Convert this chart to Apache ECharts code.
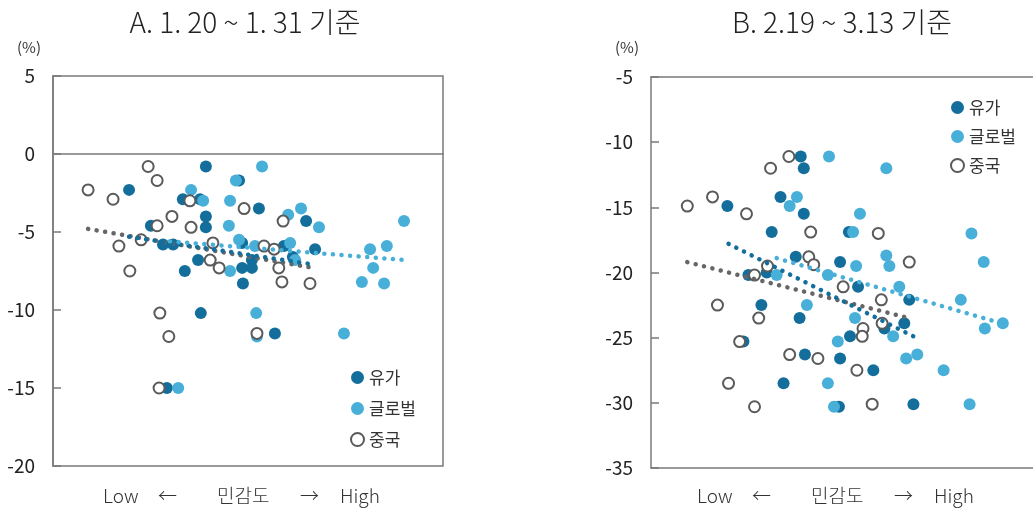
<!DOCTYPE html>
<html>
<head>
    <meta charset="UTF-8">
    <title>민감도 산점도</title>
    <script src="https://cdn.jsdelivr.net/npm/echarts@6/dist/echarts.min.js"></script>
    <style>
        body { margin: 0; background: #fff; }
    </style>
</head>
<body>
<div id="chart" style="width: 1033px; height: 511px;"></div>

<script>
    // x = sensitivity (0~100, no ticks), y = change (%)
    const seriesNames = ['유가', '글로벌', '중국'];

    // A. 1.20 ~ 1.31
    const aOil = [[39.2,-0.8],[19.5,-2.3],[33.3,-2.9],[37.7,-2.9],[47.7,-1.7],[39.2,-4.0],[25.1,-4.6],[39.2,-4.7],
        [28.2,-5.8],[30.8,-5.8],[48.5,-5.7],[37.2,-6.8],[33.8,-7.5],[48.5,-7.3],[48.7,-8.3],[52.8,-3.5],[64.9,-4.3],
        [59.2,-5.9],[67.2,-6.1],[51.0,-6.8],[51.0,-7.3],[61.5,-6.6],[37.9,-10.2],[29.2,-15.0],[56.9,-11.5]];
    const aGlobal = [[35.4,-2.3],[46.9,-1.7],[45.4,-3.0],[45.1,-4.6],[47.7,-5.5],[45.4,-7.5],[53.6,-0.8],[60.3,-3.9],
        [63.6,-3.5],[68.2,-4.7],[90.0,-4.3],[51.8,-5.9],[60.8,-5.7],[81.3,-6.1],[85.6,-5.9],[62.1,-6.8],[82.1,-7.3],
        [79.2,-8.2],[84.9,-8.3],[52.1,-10.2],[52.3,-11.7],[74.6,-11.5],[32.1,-15.0],[38.5,-3.0]];
    const aChina = [[24.4,-0.8],[26.7,-1.7],[9.0,-2.3],[15.4,-2.9],[35.1,-3.0],[49.0,-3.5],[30.5,-4.0],[26.7,-4.6],
        [35.4,-4.7],[16.9,-5.9],[22.6,-5.5],[41.0,-5.7],[40.3,-6.8],[42.6,-7.3],[19.7,-7.5],[59.0,-4.3],[54.1,-5.9],
        [56.7,-6.1],[57.9,-7.3],[58.7,-8.2],[65.9,-8.3],[27.4,-10.2],[29.7,-11.7],[27.2,-15.0],[52.3,-11.5]];
    const aTrendOil = [[19.5,-5.3],[67.2,-7.1]];
    const aTrendGlobal = [[30.0,-5.6],[90.3,-6.8]];
    const aTrendChina = [[9.0,-4.8],[66.7,-7.3]];

    // B. 2.19 ~ 3.13
    const bOil = [[20.0,-14.9],[39.2,-11.1],[40.0,-12.0],[33.9,-14.2],[40.0,-15.5],[31.6,-16.9],[51.8,-16.9],
        [37.9,-18.8],[25.5,-20.2],[30.3,-20.0],[28.9,-22.5],[38.9,-23.5],[24.2,-25.3],[40.3,-26.3],[34.7,-28.5],
        [49.5,-19.2],[54.2,-21.1],[67.6,-22.1],[66.3,-23.9],[61.1,-24.3],[52.1,-24.9],[49.5,-26.6],[58.2,-27.5],
        [49.2,-30.3],[68.7,-30.1]];
    const bGlobal = [[38.2,-14.2],[36.3,-14.9],[46.6,-11.1],[61.6,-12.0],[54.7,-15.5],[52.9,-16.9],[83.9,-17.0],
        [32.9,-20.2],[40.8,-22.5],[53.7,-19.5],[61.6,-18.7],[62.4,-19.5],[87.1,-19.2],[46.3,-20.2],[65.0,-21.1],
        [81.1,-22.1],[53.4,-23.5],[63.4,-24.9],[48.9,-25.3],[87.4,-24.3],[92.1,-23.9],[66.8,-26.6],[69.7,-26.3],
        [76.6,-27.5],[46.3,-28.5],[47.9,-30.3],[83.4,-30.1]];
    const bChina = [[9.5,-14.9],[16.1,-14.2],[25.0,-15.5],[31.3,-12.0],[36.1,-11.1],[41.8,-16.9],[59.5,-17.0],
        [41.3,-18.8],[42.6,-19.4],[30.5,-19.5],[27.1,-20.2],[17.4,-22.5],[28.2,-23.5],[23.2,-25.3],[36.3,-26.3],
        [43.7,-26.6],[20.3,-28.5],[27.1,-30.3],[67.6,-19.2],[50.3,-21.1],[60.3,-22.1],[60.5,-23.9],[55.5,-24.3],
        [55.3,-24.9],[53.9,-27.5],[57.9,-30.1]];
    const bTrendOil = [[20.3,-17.8],[68.7,-24.9]];
    const bTrendGlobal = [[32.9,-18.9],[91.8,-23.9]];
    const bTrendChina = [[9.5,-19.2],[67.6,-23.5]];

    const panelTitles = ['A. 1. 20 ~ 1. 31 기준', 'B. 2.19 ~ 3.13 기준'];
    const axisWords = ['Low', '←', '민감도', '→', 'High'];

    const FONT = 'Noto Sans CJK KR';
    const DARK = '#136e9b';
    const LIGHT = '#48afd8';
    const GREY = '#5a5a5a';

    const chart = echarts.init(document.getElementById('chart'));

    function scatter(name, data, idx) {
        const open = name === '중국';
        return {
            name: name,
            type: 'scatter',
            xAxisIndex: idx,
            yAxisIndex: idx,
            data: data,
            symbol: 'circle',
            symbolSize: open ? 11 : 12,
            itemStyle: open
                ? { color: '#fff', borderColor: GREY, borderWidth: 2, opacity: 1 }
                : { color: name === '유가' ? DARK : LIGHT, opacity: 1 },
            emphasis: { disabled: true },
            z: open ? 3 : 2
        };
    }

    function trend(data, color, idx) {
        return {
            type: 'line',
            xAxisIndex: idx,
            yAxisIndex: idx,
            data: data,
            symbol: 'none',
            silent: true,
            z: 4,
            lineStyle: { color: color, width: 4.5, type: [0.1, 8.5], cap: 'round' }
        };
    }

    const yLabel = { color: '#222', fontSize: 19, fontFamily: FONT, margin: 18 };
    const axisLine = { show: true, lineStyle: { color: '#7a7a7a', width: 1.5 } };

    // axis caption "Low ← 민감도 → High" under each panel
    const wordOffsets = [50, 105, 164, 247, 287];
    const captions = [];
    [53, 651].forEach(base => {
        axisWords.forEach((w, i) => {
            captions.push({
                type: 'text',
                left: base + wordOffsets[i] + (base > 53 ? -4 : 0),
                top: 486,
                style: { text: w, fill: '#333', font: '300 19px "' + FONT + '"' }
            });
        });
    });

    const titleStyle = { fontFamily: FONT, fontSize: 28, fontWeight: 300, color: '#222' };

    const option = {
        animation: false,
        title: [
            { text: panelTitles[0], left: 240, top: 3, textAlign: 'center', textStyle: titleStyle },
            { text: panelTitles[1], left: 837, top: 3, textAlign: 'center', textStyle: titleStyle }
        ],
        legend: [
            { orient: 'vertical', left: 345, top: 364, itemGap: 14, itemWidth: 13, itemHeight: 13,
              data: seriesNames, selectedMode: false,
              textStyle: { fontFamily: FONT, fontSize: 17, color: '#333' } },
            { orient: 'vertical', left: 945, top: 94, itemGap: 12, itemWidth: 13, itemHeight: 13,
              data: seriesNames, selectedMode: false,
              textStyle: { fontFamily: FONT, fontSize: 17, color: '#333' } }
        ],
        graphic: [
            { type: 'text', left: 17, top: 40, style: { text: '(%)', fill: '#333', font: '15px "' + FONT + '"' } },
            { type: 'text', left: 615, top: 40, style: { text: '(%)', fill: '#333', font: '15px "' + FONT + '"' } }
        ].concat(captions),
        grid: [
            { left: 53, top: 76, width: 390, height: 390, show: true, borderColor: '#7a7a7a', borderWidth: 1.5 },
            { left: 651, top: 77, width: 382, height: 391 }
        ],
        xAxis: [
            { gridIndex: 0, type: 'value', min: 0, max: 100, axisLine: Object.assign({ onZero: true }, axisLine),
              axisTick: { show: false }, axisLabel: { show: false }, splitLine: { show: false } },
            { gridIndex: 1, type: 'value', min: 0, max: 100, axisLine: Object.assign({ onZero: false }, axisLine),
              axisTick: { show: false }, axisLabel: { show: false }, splitLine: { show: false } },
            { gridIndex: 1, type: 'value', min: 0, max: 100, position: 'top', axisLine: axisLine,
              axisTick: { show: false }, axisLabel: { show: false }, splitLine: { show: false } }
        ],
        yAxis: [
            { gridIndex: 0, type: 'value', min: -20, max: 5, interval: 5, axisLine: axisLine,
              axisTick: { show: true, inside: true, length: 8, lineStyle: { color: '#7a7a7a', width: 1.5 } },
              axisLabel: yLabel, splitLine: { show: false } },
            { gridIndex: 1, type: 'value', min: -35, max: -5, interval: 5, axisLine: axisLine,
              axisTick: { show: true, inside: true, length: 8, lineStyle: { color: '#7a7a7a', width: 1.5 } },
              axisLabel: yLabel, splitLine: { show: false } }
        ],
        series: [
            scatter('유가', aOil, 0),
            scatter('글로벌', aGlobal, 0),
            scatter('중국', aChina, 0),
            trend(aTrendChina, '#666', 0),
            trend(aTrendOil, DARK, 0),
            trend(aTrendGlobal, LIGHT, 0),
            scatter('유가', bOil, 1),
            scatter('글로벌', bGlobal, 1),
            scatter('중국', bChina, 1),
            trend(bTrendChina, '#666', 1),
            trend(bTrendOil, DARK, 1),
            trend(bTrendGlobal, LIGHT, 1)
        ]
    };

    chart.setOption(option);
</script>
</body>
</html>
